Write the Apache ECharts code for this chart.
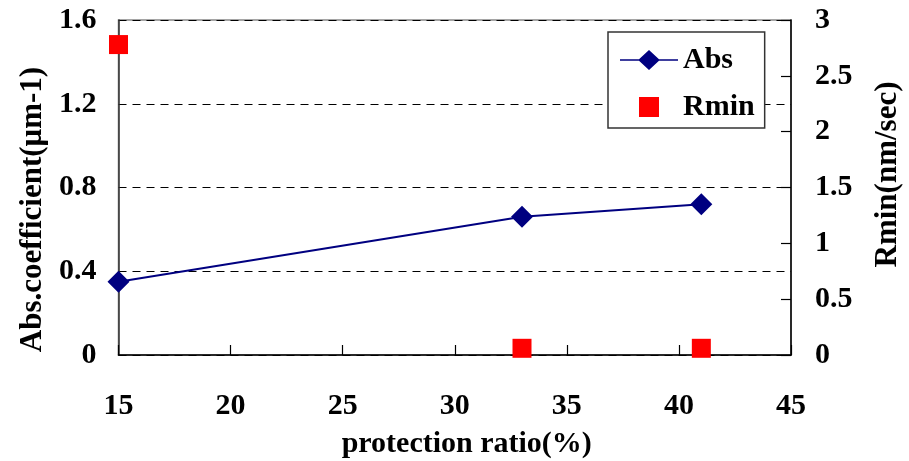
<!DOCTYPE html>
<html>
<head>
<meta charset="utf-8">
<script src="https://cdn.jsdelivr.net/npm/echarts@6/dist/echarts.min.js"></script>
<style>
  html, body { margin: 0; padding: 0; background: #fff; }
  #main { width: 909px; height: 461px; }
</style>
</head>
<body>
<div id="main"></div>
<script>
// data
var ratio = [15, 33, 41];
var absValues = [0.35, 0.66, 0.72];
var rminValues = [2.78, 0.06, 0.06];

var font = '"Liberation Serif", "Times New Roman", serif';

var chart = echarts.init(document.getElementById('main'));

chart.setOption({
  animation: false,
  textStyle: { fontFamily: font },
  grid: {
    left: 118.5, right: 118, top: 20, bottom: 106,
    outerBoundsMode: 'none',
    containLabel: false,
    show: true, borderColor: '#888', borderWidth: 1.5
  },
  legend: {
    orient: 'vertical',
    left: 608, top: 32,
    padding: [13, 10, 6, 12],
    itemGap: 17,
    itemWidth: 58,
    itemHeight: 20,
    borderColor: '#333',
    borderWidth: 1.5,
    backgroundColor: '#fff',
    textStyle: { fontFamily: font, fontWeight: 'bold', fontSize: 30, color: '#000', lineHeight: 30 },
    data: [
      // line with a diamond on it
      { name: 'Abs', icon: 'path://M0,9.2L19,9.2L29,0L39,9.2L58,9.2L58,10.8L39,10.8L29,20L19,10.8L0,10.8Z' },
      { name: 'Rmin', icon: 'path://M0,0L10,0L10,10L0,10Z' }
    ]
  },
  xAxis: {
    type: 'value',
    min: 15, max: 45, interval: 5,
    name: 'protection ratio(%)',
    nameLocation: 'middle',
    nameGap: 74,
    nameTextStyle: { fontFamily: font, fontWeight: 'bold', fontSize: 30, color: '#000', padding: [0, 0, 0, 24] },
    axisLine: { lineStyle: { color: '#000', width: 1.5 } },
    axisTick: { inside: true, length: 10, lineStyle: { color: '#000', width: 1.2 } },
    axisLabel: { fontFamily: font, fontWeight: 'bold', fontSize: 30, color: '#000', margin: 36 },
    splitLine: { show: false }
  },
  yAxis: [{
    type: 'value',
    min: 0, max: 1.6, interval: 0.4,
    name: 'Abs.coefficient(\u03bcm-1)',
    nameLocation: 'middle',
    nameGap: 69,
    nameRotate: 90,
    nameTextStyle: { fontFamily: font, fontWeight: 'bold', fontSize: 31, color: '#000', padding: [0, 44, 0, 0] },
    axisLine: { lineStyle: { color: '#333', width: 1.5 } },
    axisTick: { show: false },
    axisLabel: { fontFamily: font, fontWeight: 'bold', fontSize: 30, color: '#000', margin: 22 },
    splitLine: { show: true, lineStyle: { color: '#000', type: [8, 6], width: 1 } }
  }, {
    type: 'value',
    min: 0, max: 3, interval: 0.5,
    position: 'right',
    name: 'Rmin(nm/sec)',
    nameLocation: 'middle',
    nameGap: 81,
    nameRotate: 90,
    nameTextStyle: { fontFamily: font, fontWeight: 'bold', fontSize: 31, color: '#000', padding: [0, 0, 0, 26] },
    axisLine: { show: true, lineStyle: { color: '#000', width: 1.5 } },
    axisTick: { inside: true, length: 10, lineStyle: { color: '#000', width: 1.2 } },
    axisLabel: { fontFamily: font, fontWeight: 'bold', fontSize: 30, color: '#000', margin: 24 },
    splitLine: { show: false }
  }],
  series: [{
    name: 'Abs',
    type: 'line',
    yAxisIndex: 0,
    data: ratio.map(function (r, i) { return [r, absValues[i]]; }),
    symbol: 'diamond',
    symbolSize: 22,
    lineStyle: { color: '#000080', width: 2 },
    itemStyle: { color: '#000080' },
    z: 3
  }, {
    name: 'Rmin',
    type: 'scatter',
    yAxisIndex: 1,
    data: ratio.map(function (r, i) { return [r, rminValues[i]]; }),
    symbol: 'rect',
    symbolSize: 19,
    itemStyle: { color: '#ff0000', opacity: 1 },
    z: 4
  }]
});
</script>
</body>
</html>
